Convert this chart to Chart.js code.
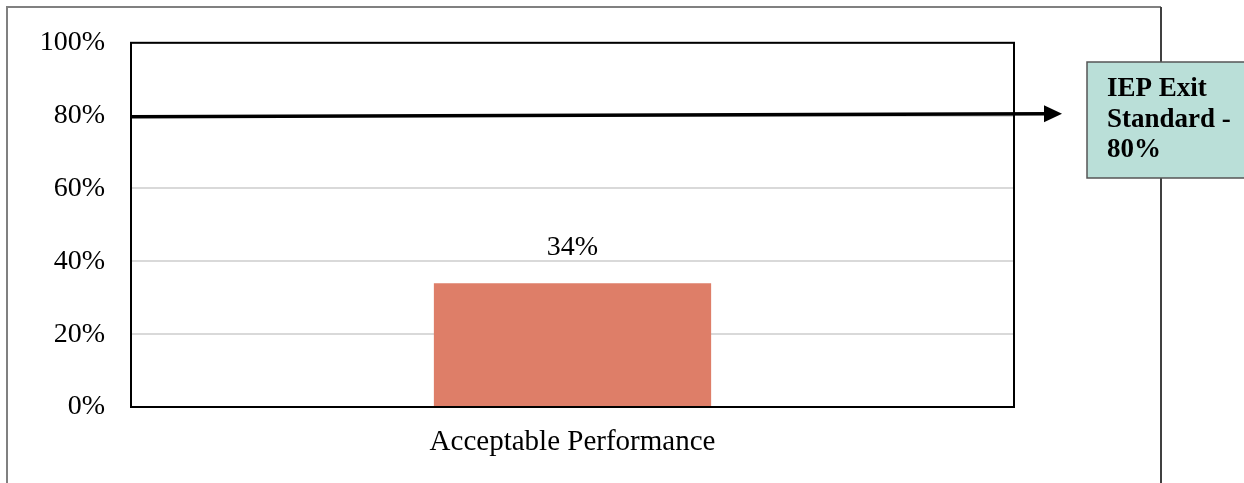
<!DOCTYPE html>
<html>
<head>
<meta charset="utf-8">
<script src="https://cdn.jsdelivr.net/npm/chart.js@4.4.1/dist/chart.umd.min.js"></script>
<style>
  html, body { margin: 0; padding: 0; background: #fff; }
  #wrap { width: 1244px; height: 483px; position: relative; }
</style>
</head>
<body>
<div id="wrap"><canvas id="chart"></canvas></div>
<script>
// data
const categories = ['Acceptable Performance'];
const values = [34];
const yTicks = [0, 20, 40, 60, 80, 100];
const exitStandard = 80;
const exitLabel = ['IEP Exit', 'Standard -', '80%'];

const serif = '"Liberation Serif", "Times New Roman", serif';

// frame, plot border, value label, arrow and note box
const decorPlugin = {
    id: 'decor',
    beforeDraw(chart) {
        const ctx = chart.ctx;
        ctx.save();
        ctx.strokeStyle = '#808080';
        ctx.lineWidth = 2;
        ctx.beginPath();
        ctx.moveTo(7, 483);
        ctx.lineTo(7, 7);
        ctx.lineTo(1161, 7);
        ctx.stroke();
        ctx.strokeStyle = '#404040';
        ctx.beginPath();
        ctx.moveTo(1161, 7);
        ctx.lineTo(1161, 483);
        ctx.stroke();
        ctx.restore();
    },
    afterDraw(chart) {
        const ctx = chart.ctx;
        const area = chart.chartArea;
        const yScale = chart.scales.y;
        ctx.save();

        // plot border
        ctx.strokeStyle = '#000';
        ctx.lineWidth = 2;
        ctx.strokeRect(area.left, area.top, area.right - area.left, area.bottom - area.top);

        // value labels
        ctx.fillStyle = '#000';
        ctx.font = '28px ' + serif;
        ctx.textAlign = 'center';
        ctx.textBaseline = 'bottom';
        chart.getDatasetMeta(0).data.forEach((bar, i) => {
            ctx.fillText(values[i] + '%', bar.x, bar.y - 22);
        });

        // exit standard arrow
        const y0 = yScale.getPixelForValue(exitStandard);
        const tipX = 1062;
        const tipY = y0 - 2;
        ctx.strokeStyle = '#000';
        ctx.lineWidth = 3.5;
        ctx.beginPath();
        ctx.moveTo(area.left, y0 + 1);
        ctx.lineTo(tipX - 14, tipY);
        ctx.stroke();
        ctx.beginPath();
        ctx.moveTo(tipX, tipY);
        ctx.lineTo(tipX - 18, tipY - 8.5);
        ctx.lineTo(tipX - 18, tipY + 8.5);
        ctx.closePath();
        ctx.fill();

        // note box
        ctx.fillStyle = '#badfd8';
        ctx.fillRect(1087, 62, 170, 116);
        ctx.strokeStyle = '#555';
        ctx.lineWidth = 1.5;
        ctx.strokeRect(1087, 62, 170, 116);
        ctx.fillStyle = '#000';
        ctx.font = 'bold 27px ' + serif;
        ctx.textAlign = 'left';
        ctx.textBaseline = 'alphabetic';
        exitLabel.forEach((line, i) => {
            ctx.fillText(line, 1107, 96 + i * 30.5);
        });
        ctx.restore();
    }
};

new Chart(document.getElementById('chart'), {
    type: 'bar',
    data: {
        labels: categories,
        datasets: [{
            data: values,
            backgroundColor: '#de7e68',
            borderWidth: 0,
            barPercentage: 1,
            categoryPercentage: 0.314
        }]
    },
    options: {
        responsive: true,
        maintainAspectRatio: false,
        animation: false,
        layout: { padding: { left: 0, top: 40, right: 230, bottom: 0 } },
        plugins: {
            legend: { display: false },
            tooltip: { enabled: false }
        },
        scales: {
            x: {
                grid: { display: false, drawTicks: false },
                border: { display: false },
                ticks: {
                    color: '#000',
                    padding: 18,
                    font: { family: serif, size: 29 }
                },
                afterFit(scale) { scale.height = 76; }
            },
            y: {
                min: 0,
                max: 100,
                afterBuildTicks(scale) {
                    scale.ticks = yTicks.map(v => ({ value: v }));
                },
                grid: { color: '#d9d9d9', lineWidth: 2, drawTicks: false },
                border: { display: false },
                ticks: {
                    color: '#000',
                    padding: 26,
                    font: { family: serif, size: 28 },
                    callback: v => v + '%'
                },
                afterFit(scale) { scale.width = 131; }
            }
        }
    },
    plugins: [decorPlugin]
});
</script>
</body>
</html>
